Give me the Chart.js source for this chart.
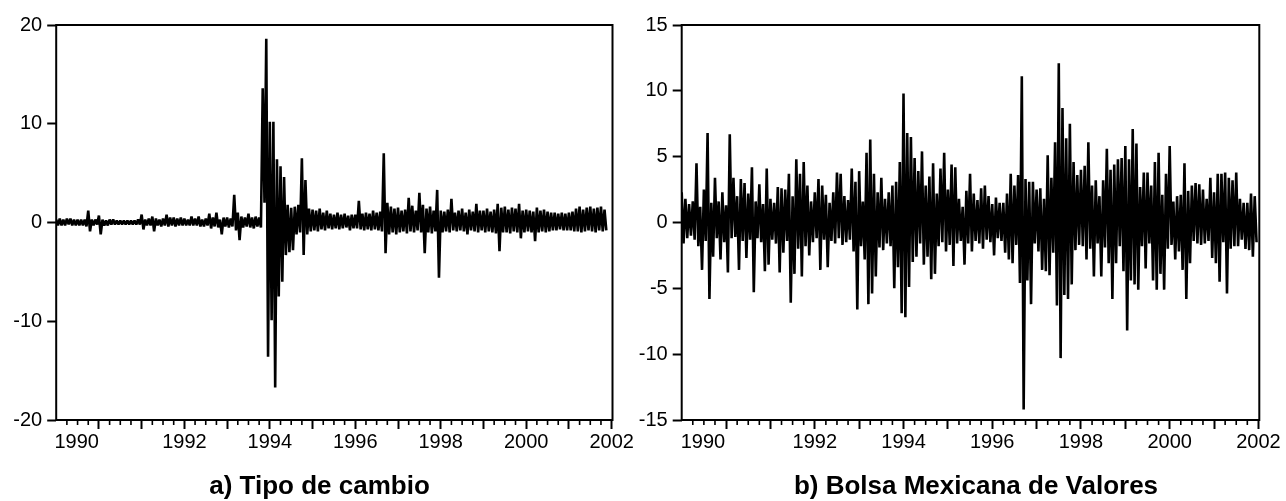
<!DOCTYPE html>
<html><head><meta charset="utf-8">
<script src="https://cdn.jsdelivr.net/npm/chart.js@4/dist/chart.umd.min.js"></script>
<style>
html,body{margin:0;padding:0;background:#fff;overflow:hidden;width:1286px;height:501px;}
canvas{position:absolute;top:0;}
#c1{left:0}
#c2{left:630px}
</style></head><body>
<canvas id="c1" width="639" height="501"></canvas>
<canvas id="c2" width="692" height="501"></canvas>
<script>
// ---- data (one value every 1/24 year, starting at 1989.0) ----
const startYear = 1989.0;
const stepYears = 1 / 24;

const tipoCambio = [
 0.3,-0.3,0.4,-0.3,0.3,-0.3,0.4,-0.2,0.4,-0.3,0.3,-0.3,
 0.3,-0.3,0.3,-0.3,0.3,-0.4,1.2,-0.9,0.3,-0.3,0.3,-0.2,
 0.7,-1.2,0.3,-0.3,0.2,-0.3,0.3,-0.2,0.3,-0.2,0.2,-0.2,
 0.2,-0.2,0.2,-0.2,0.2,-0.2,0.2,-0.2,0.2,-0.2,0.3,-0.2,
 0.8,-0.7,0.3,-0.3,0.4,-0.3,0.6,-0.9,0.4,-0.3,0.3,-0.4,
 0.4,-0.3,0.8,-0.4,0.5,-0.3,0.5,-0.4,0.4,-0.3,0.5,-0.3,
 0.4,-0.3,0.3,-0.3,0.6,-0.3,0.4,-0.3,0.6,-0.4,0.3,-0.4,
 0.4,-0.3,0.9,-0.6,0.5,-0.4,1.0,-0.5,0.3,-1.2,0.5,-0.4,
 0.5,-0.5,0.4,-0.4,2.8,-0.8,1.0,-1.8,0.6,-0.5,0.5,-0.4,
 0.9,-0.5,0.5,-0.6,0.6,-0.4,0.5,-0.5,13.6,2.0,18.6,-13.6,
 10.2,-9.9,10.2,-16.7,6.4,-7.5,5.7,-6.0,4.6,-3.3,1.8,-3.0,
 1.5,-2.8,1.6,-1.2,1.8,-1.0,6.5,-3.3,4.3,-1.2,1.4,-0.9,
 1.3,-0.8,1.2,-0.9,1.4,-0.7,1.0,-0.8,1.2,-0.6,0.9,-0.7,
 0.8,-0.6,1.0,-0.7,0.8,-0.6,0.9,-0.5,0.7,-0.8,0.8,-0.6,
 0.8,-0.6,2.2,-0.7,0.9,-0.8,1.0,-0.7,0.9,-0.8,1.2,-0.7,
 1.0,-0.8,1.1,-0.9,7.0,-3.1,2.0,-1.2,1.6,-1.0,1.4,-1.2,
 1.5,-1.0,1.2,-0.9,1.3,-1.1,2.5,-0.9,1.7,-1.0,1.2,-0.8,
 3.0,-1.0,1.8,-3.1,1.4,-1.0,1.6,-1.1,1.2,-0.9,3.3,-5.6,
 1.2,-1.0,1.1,-0.9,1.3,-1.0,2.4,-0.8,1.0,-0.9,1.2,-0.8,
 1.4,-0.9,1.0,-1.2,1.3,-0.8,1.1,-0.9,1.9,-1.0,1.2,-0.8,
 1.2,-1.0,1.4,-0.9,1.1,-1.0,1.3,-1.1,1.9,-2.9,1.5,-1.0,
 1.6,-1.0,1.3,-1.1,1.5,-0.9,1.4,-1.0,1.9,-1.6,1.2,-1.0,
 1.3,-0.9,1.2,-1.0,1.1,-1.9,1.5,-1.0,1.2,-0.9,1.3,-1.0,
 1.1,-0.9,1.0,-0.8,1.0,-0.8,0.9,-0.7,1.0,-0.8,0.9,-0.8,
 1.0,-0.8,1.1,-0.9,1.4,-0.9,1.6,-1.0,1.3,-0.9,1.5,-0.8,
 1.6,-0.9,1.4,-1.0,1.5,-0.8,1.6,-0.9,1.3,-0.8
];

const bolsaMexicana = [
 2.3,-1.6,1.8,-1.2,1.4,-1.0,1.6,-1.3,4.5,-1.8,1.2,-3.6,
 2.5,-1.4,6.8,-5.8,1.5,-2.6,3.4,-1.2,1.6,-2.8,2.3,-1.5,
 1.3,-3.8,6.7,-1.2,3.4,-1.1,2.0,-3.6,3.3,-1.4,3.0,-2.7,
 2.2,-1.3,4.2,-5.3,1.6,-1.2,2.9,-1.5,1.4,-3.7,4.1,-3.2,
 1.8,-1.3,1.5,-1.6,2.7,-3.8,2.6,-2.3,2.5,-1.4,3.7,-6.1,
 2.0,-3.9,4.8,-2.0,3.7,-4.1,4.6,-1.8,2.8,-2.5,1.6,-1.5,
 2.3,-1.2,3.3,-3.6,2.8,-1.3,2.1,-3.4,1.5,-1.4,2.3,-1.6,
 3.8,-1.2,3.7,-1.7,2.0,-1.5,1.7,-1.3,4.1,-2.2,3.1,-6.6,
 3.9,-1.8,1.6,-2.8,5.3,-6.2,6.3,-5.4,3.7,-4.1,2.3,-1.9,
 3.4,-2.1,1.8,-1.6,2.3,-1.8,2.8,-5.0,3.1,-3.4,4.6,-6.9,
 9.8,-7.2,6.8,-4.9,6.5,-3.0,4.9,-2.6,3.9,-1.6,5.4,-3.2,
 2.8,-2.6,3.5,-4.3,4.5,-3.9,2.2,-1.8,4.1,-1.5,5.3,-2.2,
 2.5,-1.7,4.4,-3.3,4.2,-1.6,1.8,-1.4,1.2,-3.2,2.4,-1.6,
 3.7,-2.2,2.2,-1.4,1.7,-1.6,2.6,-2.0,2.8,-1.3,2.0,-1.5,
 1.4,-2.5,1.9,-1.2,1.5,-1.4,1.5,-2.3,2.2,-2.8,3.7,-3.1,
 2.8,-1.7,3.6,-4.6,11.1,-14.2,3.3,-4.4,3.1,-6.2,3.1,-1.6,
 2.5,-2.2,2.6,-3.6,1.8,-3.7,5.1,-4.0,3.4,-2.3,6.1,-6.3,
 12.1,-10.3,8.7,-5.5,6.4,-5.8,7.5,-4.7,4.6,-2.1,3.6,-1.7,
 4.0,-1.8,4.3,-2.8,6.1,-2.0,2.8,-4.1,3.2,-1.6,2.0,-4.1,
 3.2,-1.9,5.6,-3.1,4.0,-5.8,4.4,-3.1,4.8,-1.8,4.9,-3.7,
 5.8,-8.2,4.8,-4.4,7.1,-4.7,6.0,-5.1,2.7,-1.8,3.8,-3.5,
 3.8,-1.6,2.8,-4.4,4.6,-5.1,5.3,-3.9,2.1,-5.1,3.7,-2.0,
 5.8,-1.7,1.6,-2.8,2.0,-2.2,2.1,-3.6,4.5,-5.8,2.4,-3.1,
 2.8,-1.4,3.0,-1.6,2.9,-1.7,2.5,-1.6,1.8,-1.4,3.4,-2.7,
 2.3,-3.1,3.7,-4.5,3.7,-1.5,3.8,-5.4,3.4,-2.0,3.2,-1.8,
 3.8,-1.8,1.8,-1.3,1.5,-2.0,1.5,-2.1,2.2,-2.6,2.0,-1.5
];

// ---- axis labels ----
const xLabelText = ['1990','1992','1994','1996','1998','2000','2002'];
const xLabelPos  = [1989.48, 1992, 1994, 1996, 1998, 2000, 2002];
const majorYears = [1990,1991,1992,1993,1994,1995,1996,1997,1998,1999,2000,2001,2002];
const titles = ['a) Tipo de cambio', 'b) Bolsa Mexicana de Valores'];

const FONT = 'Liberation Sans, Arial, sans-serif';

function toPoints(values) {
  return values.map((v, i) => ({ x: startYear + i * stepYears, y: v }));
}

const framePlugin = {
  id: 'frame',
  afterDraw(chart) {
    const a = chart.chartArea, ctx = chart.ctx, xs = chart.scales.x;
    ctx.save();
    ctx.strokeStyle = '#000';
    ctx.lineWidth = 2;
    ctx.strokeRect(a.left, a.top, a.right - a.left, a.bottom - a.top);
    // quarterly minor ticks
    ctx.lineWidth = 1.6;
    ctx.beginPath();
    for (let yr = 1989; yr <= 2001; yr++) {
      [0.25, 0.5, 0.75].forEach(q => {
        const px = xs.getPixelForValue(yr + q);
        ctx.moveTo(px, a.bottom);
        ctx.lineTo(px, a.bottom + 5);
      });
    }
    ctx.stroke();
    ctx.restore();
  }
};

function makeChart(id, values, title, yMin, yMax, yStep, leftW, rightW) {
  const tickVals = Array.from(new Set([...xLabelPos, ...majorYears])).sort((a, b) => a - b);
  return new Chart(document.getElementById(id), {
    type: 'line',
    data: {
      datasets: [{
        data: toPoints(values),
        borderColor: '#000',
        borderWidth: 2.6,
        borderJoinStyle: 'bevel',
        pointRadius: 0,
        tension: 0,
        fill: false
      }]
    },
    options: {
      responsive: false,
      animation: false,
      devicePixelRatio: 1,
      layout: { padding: { top: 25, left: 0, right: 0, bottom: 0 } },
      plugins: {
        legend: { display: false },
        tooltip: { enabled: false },
        title: {
          display: true,
          text: title,
          position: 'bottom',
          color: '#000',
          font: { family: FONT, size: 26, weight: 'bold', lineHeight: 1.1 },
          padding: { top: 0, bottom: 0 }
        }
      },
      scales: {
        x: {
          type: 'linear',
          min: 1989.0,
          max: 2002.02,
          afterBuildTicks: s => { s.ticks = tickVals.map(v => ({ value: v })); },
          afterFit: s => { s.height = 52.4; },
          border: { display: false },
          grid: {
            drawOnChartArea: false,
            tickLength: 9,
            tickWidth: 2,
            tickColor: c => (c.tick && majorYears.includes(c.tick.value)) ? '#000' : 'rgba(0,0,0,0)'
          },
          ticks: {
            autoSkip: false,
            maxRotation: 0,
            padding: 1.5,
            color: '#000',
            font: { family: FONT, size: 20 },
            callback: v => { const k = xLabelPos.indexOf(v); return k >= 0 ? xLabelText[k] : ''; }
          }
        },
        y: {
          type: 'linear',
          position: 'left',
          min: yMin,
          max: yMax,
          afterFit: s => { s.width = leftW; },
          border: { display: false },
          grid: { drawOnChartArea: false, tickLength: 9, tickWidth: 2, tickColor: '#000' },
          ticks: { stepSize: yStep, padding: 5, color: '#000', font: { family: FONT, size: 20 } }
        },
        yR: {
          type: 'linear',
          position: 'right',
          display: true,
          afterFit: s => { s.width = rightW; },
          border: { display: false },
          grid: { display: false },
          ticks: { display: false }
        }
      }
    },
    plugins: [framePlugin]
  });
}

makeChart('c1', tipoCambio, titles[0], -20, 20, 10, 56.2, 639 - 612.5);
makeChart('c2', bolsaMexicana, titles[1], -15, 15, 5, 51.7, 692 - 629.3);
</script>
</body></html>
